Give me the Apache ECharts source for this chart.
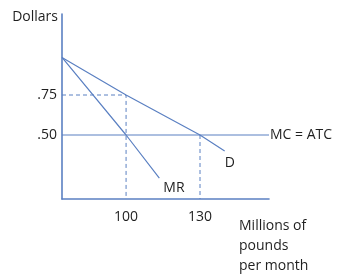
<!DOCTYPE html>
<html>
<head>
<meta charset="utf-8">
<script src="https://cdn.jsdelivr.net/npm/echarts@6/dist/echarts.min.js"></script>
<style>html,body{margin:0;padding:0;background:#fff;}#c{width:346px;height:274px;}</style>
</head>
<body>
<div id="c"></div>
<script>
// Data
const xTicks = [100, 130];
const yTicks = [0.50, 0.75];
const yTickLabels = {'0.5': '.50', '0.75': '.75'};
const demandX = [74, 100, 130, 140];
const demandY = [0.985, 0.75, 0.50, 0.40];
const mrX = [74, 100, 113.5];
const mrY = [0.985, 0.50, 0.23];
const mcX = [74, 158];
const mcY = [0.50, 0.50];
const guide1X = [74, 100, 100];
const guide1Y = [0.75, 0.75, 0.10];
const guide2X = [130, 130];
const guide2Y = [0.50, 0.10];

const zip = (xs, ys) => xs.map((x, i) => [x, ys[i]]);
const blue = '#5b80c2';
const txt = '#1f1f1f';
const font = 'Open Sans';

const chart = echarts.init(document.getElementById('c'), null, {renderer: 'canvas'});
chart.setOption({
  animation: false,
  backgroundColor: '#fff',
  textStyle: {fontFamily: font},
  title: {
    text: 'Millions of\npounds\nper month',
    left: 234, top: 211,
    textStyle: {fontFamily: font, fontSize: 14, fontWeight: 'normal', color: txt, lineHeight: 20}
  },
  grid: {left: 62, right: 77, top: 14, bottom: 75},
  xAxis: {
    type: 'value', min: 74, max: 158,
    axisLine: {show: true, lineStyle: {color: blue, width: 1.6}},
    axisTick: {show: false},
    splitLine: {show: false},
    axisLabel: {customValues: xTicks, color: txt, fontSize: 14, fontFamily: font, margin: 11}
  },
  yAxis: {
    type: 'value', min: 0.10, max: 1.2563,
    name: 'Dollars', nameLocation: 'end', nameGap: -3,
    nameTextStyle: {color: txt, fontSize: 14, fontFamily: font, align: 'right', verticalAlign: 'middle', padding: [0, 4, 0, 0]},
    axisLine: {show: true, lineStyle: {color: blue, width: 1.6}},
    axisTick: {show: false},
    splitLine: {show: false},
    axisLabel: {customValues: yTicks, color: txt, fontSize: 14, fontFamily: font, margin: 5,
      formatter: v => yTickLabels[String(v)] || String(v)}
  },
  series: [
    {type: 'line', data: zip(guide1X, guide1Y), symbol: 'none', silent: true,
     lineStyle: {color: blue, width: 1, type: [4, 3]}},
    {type: 'line', data: zip(guide2X, guide2Y), symbol: 'none', silent: true,
     lineStyle: {color: blue, width: 1, type: [4, 3]}},
    {type: 'line', data: zip(mcX, mcY), symbol: 'none', clip: false,
     lineStyle: {color: blue, width: 1.2},
     endLabel: {show: true, formatter: 'MC = ATC', distance: 1, color: txt, fontSize: 14, fontFamily: font}},
    {type: 'line', data: zip(demandX, demandY), symbol: 'none',
     lineStyle: {color: blue, width: 1.2},
     endLabel: {show: true, formatter: 'D', distance: 2, offset: [-2, 12], color: txt, fontSize: 14, fontFamily: font}},
    {type: 'line', data: zip(mrX, mrY), symbol: 'none',
     lineStyle: {color: blue, width: 1.2},
     endLabel: {show: true, formatter: 'MR', distance: 4, offset: [0, 10], color: txt, fontSize: 14, fontFamily: font}}
  ]
});
</script>
</body>
</html>
